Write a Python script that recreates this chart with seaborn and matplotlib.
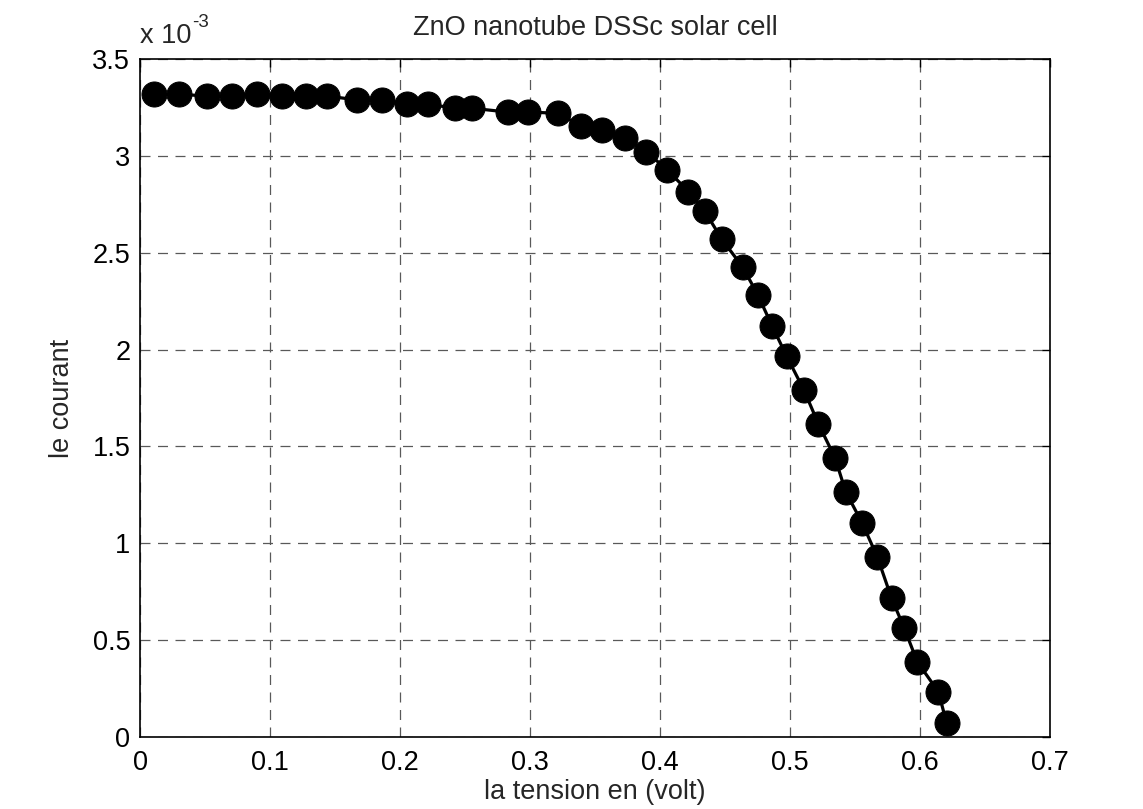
import matplotlib
matplotlib.use("Agg")
import matplotlib.pyplot as plt
import seaborn as sns
import pandas as pd
from matplotlib.ticker import FormatStrFormatter

# Data (voltage in volts, current in units of 1e-3)
voltage = [0.0108, 0.0302, 0.0513, 0.0705, 0.0898, 0.1095, 0.1275, 0.1437,
           0.1667, 0.1864, 0.2052, 0.2213, 0.2423, 0.2552, 0.2828, 0.2987,
           0.3213, 0.3390, 0.3551, 0.3731, 0.3892, 0.4056, 0.4218, 0.4346,
           0.4474, 0.4636, 0.4751, 0.4864, 0.4974, 0.5108, 0.5218, 0.5346,
           0.5428, 0.5556, 0.5672, 0.5782, 0.5879, 0.5979, 0.6141, 0.6205]
current = [3.318, 3.318, 3.309, 3.309, 3.318, 3.309, 3.309, 3.309,
           3.289, 3.289, 3.267, 3.267, 3.246, 3.246, 3.226, 3.226,
           3.220, 3.155, 3.134, 3.094, 3.022, 2.928, 2.816, 2.713,
           2.571, 2.426, 2.284, 2.120, 1.966, 1.790, 1.617, 1.442,
           1.267, 1.103, 0.929, 0.715, 0.562, 0.388, 0.234, 0.072]
x_ticks = [0, 0.1, 0.2, 0.3, 0.4, 0.5, 0.6, 0.7]
y_ticks = [0, 0.5, 1, 1.5, 2, 2.5, 3, 3.5]

sns.set_style("white")
plt.rcParams['font.family'] = ['Liberation Sans', 'DejaVu Sans']

FS = 19.5
W, H = 1143, 809

df = pd.DataFrame({"V": voltage, "I": current})

fig = plt.figure(figsize=(W / 100, H / 100), dpi=100)
ax = fig.add_axes([140 / W, 72 / H, 910 / W, 678 / H])

sns.lineplot(data=df, x="V", y="I", ax=ax, color="black", linewidth=2.3,
             marker="o", markersize=18, markeredgecolor="black",
             markerfacecolor="black", sort=False, zorder=3)

ax.set_xlim(0, 0.7)
ax.set_ylim(0, 3.5)
ax.set_xticks(x_ticks)
ax.set_yticks(y_ticks)
ax.xaxis.set_major_formatter(FormatStrFormatter('%g'))
ax.yaxis.set_major_formatter(FormatStrFormatter('%g'))

ax.grid(True, color="0.35", linestyle=(0, (8, 6)), linewidth=0.9)
ax.set_axisbelow(True)
for s in ax.spines.values():
    s.set_visible(True)
    s.set_color("black")
    s.set_linewidth(1.2)
    s.set_zorder(4)

ax.tick_params(axis="both", direction="in", length=6, width=1, top=True,
               right=True, labelsize=FS, colors="black")
ax.tick_params(axis="x", pad=9)
ax.tick_params(axis="y", pad=7)

ax.set_xlabel("la tension en (volt)", fontsize=FS)
ax.set_ylabel("le courant", fontsize=FS)
ax.xaxis.set_label_coords(0.5, (737 - 779) / 678)
ax.yaxis.set_label_coords((75 - 140) / 910, 0.5)
ax.set_title("ZnO nanotube DSSc solar cell", fontsize=FS, pad=17)

fig.text(140 / W, 1 - 43 / H, "x 10", fontsize=FS, ha="left", va="baseline")
fig.text(192 / W, 1 - 27 / H, "-3", fontsize=13.5, ha="left", va="baseline")

fig.savefig("out.png", dpi=100)
